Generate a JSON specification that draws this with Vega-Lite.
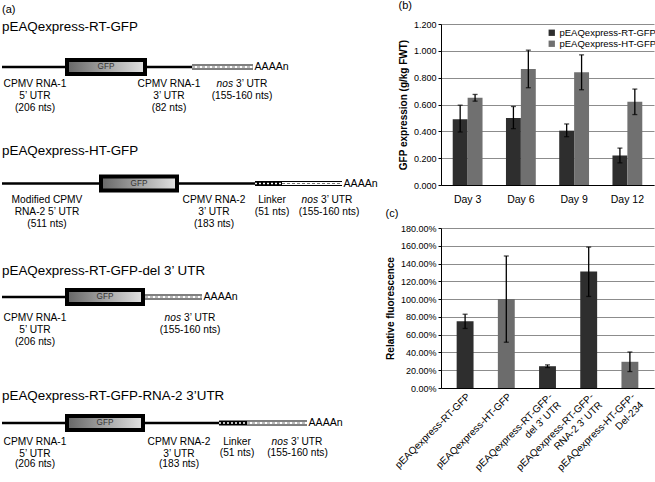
{
  "$schema": "https://vega.github.io/schema/vega-lite/v6.json",
  "padding": 0,
  "spacing": 7,
  "columns": 2,
  "align": "none",
  "config": {
    "view": {"stroke": null},
    "font": "Liberation Sans",
    "axis": {"labelColor": "black", "titleColor": "black", "domainColor": "black", "tickColor": "black", "gridColor": "#8c8c8c", "labelFont": "Liberation Sans", "titleFont": "Liberation Sans", "labelOverlap": false},
    "title": {"font": "Liberation Sans", "fontWeight": "normal", "color": "black"},
    "legend": {"labelFont": "Liberation Sans", "labelColor": "black"}
  },
  "datasets": {
    "segments": [
      {"construct": "RT-GFP", "part": "backbone", "x": 0, "x2": 190, "y": 65},
      {"construct": "RT-GFP", "part": "nos", "x": 190, "x2": 251, "y": 65},
      {"construct": "HT-GFP", "part": "backbone", "x": 0, "x2": 253, "y": 181.5},
      {"construct": "HT-GFP", "part": "linker", "x": 253, "x2": 280, "y": 181.5},
      {"construct": "HT-GFP", "part": "nos", "x": 280, "x2": 340, "y": 181.5},
      {"construct": "RT-GFP-del", "part": "backbone", "x": 0, "x2": 143, "y": 295},
      {"construct": "RT-GFP-del", "part": "nos", "x": 143, "x2": 200, "y": 295},
      {"construct": "RT-GFP-RNA2", "part": "backbone", "x": 0, "x2": 217, "y": 421},
      {"construct": "RT-GFP-RNA2", "part": "linker", "x": 217, "x2": 245, "y": 421},
      {"construct": "RT-GFP-RNA2", "part": "nos", "x": 245, "x2": 305, "y": 421}
    ],
    "boxes": [
      {"construct": "RT-GFP", "x": 65, "x2": 143, "y": 58, "y2": 72},
      {"construct": "HT-GFP", "x": 99, "x2": 175, "y": 174.5, "y2": 188.5},
      {"construct": "RT-GFP-del", "x": 65, "x2": 141, "y": 288, "y2": 302},
      {"construct": "RT-GFP-RNA2", "x": 65, "x2": 141, "y": 414, "y2": 428}
    ],
    "texts": [
      {"role": "panel", "x": 0, "y": 8, "text": "(a)"},
      {"role": "title", "x": 0, "y": 25, "text": "pEAQexpress-RT-GFP"},
      {"role": "title", "x": 0, "y": 148.5, "text": "pEAQexpress-HT-GFP"},
      {"role": "title", "x": 0, "y": 268.5, "text": "pEAQexpress-RT-GFP-del 3’ UTR"},
      {"role": "title", "x": 0, "y": 393.5, "text": "pEAQexpress-RT-GFP-RNA-2 3’UTR"},
      {"role": "gfp", "x": 104, "y": 65, "text": "GFP"},
      {"role": "gfp", "x": 137, "y": 181.5, "text": "GFP"},
      {"role": "gfp", "x": 103, "y": 295, "text": "GFP"},
      {"role": "gfp", "x": 103, "y": 421, "text": "GFP"},
      {"role": "polya", "x": 252.5, "y": 65, "text": "AAAAn"},
      {"role": "polya", "x": 341.5, "y": 181.5, "text": "AAAAn"},
      {"role": "polya", "x": 201.5, "y": 295, "text": "AAAAn"},
      {"role": "polya", "x": 306.5, "y": 421, "text": "AAAAn"},
      {"role": "label", "x": 33, "y": 82, "text": "CPMV RNA-1"},
      {"role": "label", "x": 33, "y": 94, "text": "5’ UTR"},
      {"role": "label", "x": 33, "y": 106, "text": "(206 nts)"},
      {"role": "label", "x": 167, "y": 82, "text": "CPMV RNA-1"},
      {"role": "label", "x": 167, "y": 94, "text": "3’ UTR"},
      {"role": "label", "x": 167, "y": 106, "text": "(82 nts)"},
      {"role": "nos", "x": 231, "y": 82, "text": "3’ UTR"},
      {"role": "label", "x": 240, "y": 94, "text": "(155-160 nts)"},
      {"role": "label", "x": 45, "y": 198, "text": "Modified CPMV"},
      {"role": "label", "x": 45, "y": 210, "text": "RNA-2 5’ UTR"},
      {"role": "label", "x": 45, "y": 222, "text": "(511 nts)"},
      {"role": "label", "x": 212, "y": 198, "text": "CPMV RNA-2"},
      {"role": "label", "x": 212, "y": 210, "text": "3’ UTR"},
      {"role": "label", "x": 212, "y": 222, "text": "(183 nts)"},
      {"role": "label", "x": 270, "y": 198, "text": "Linker"},
      {"role": "label", "x": 270, "y": 209.5, "text": "(51 nts)"},
      {"role": "nos", "x": 316, "y": 198, "text": "3’ UTR"},
      {"role": "label", "x": 327, "y": 209.5, "text": "(155-160 nts)"},
      {"role": "label", "x": 33, "y": 316, "text": "CPMV RNA-1"},
      {"role": "label", "x": 33, "y": 327.5, "text": "5’ UTR"},
      {"role": "label", "x": 33, "y": 339.5, "text": "(206 nts)"},
      {"role": "nos", "x": 179, "y": 316, "text": "3’ UTR"},
      {"role": "label", "x": 188, "y": 328, "text": "(155-160 nts)"},
      {"role": "label", "x": 33, "y": 440, "text": "CPMV RNA-1"},
      {"role": "label", "x": 33, "y": 451.5, "text": "5’ UTR"},
      {"role": "label", "x": 33, "y": 462, "text": "(206 nts)"},
      {"role": "label", "x": 177, "y": 440, "text": "CPMV RNA-2"},
      {"role": "label", "x": 177, "y": 451.5, "text": "3’ UTR"},
      {"role": "label", "x": 177, "y": 462, "text": "(183 nts)"},
      {"role": "label", "x": 235, "y": 440, "text": "Linker"},
      {"role": "label", "x": 235, "y": 451, "text": "(51 nts)"},
      {"role": "nos", "x": 286, "y": 440, "text": "3’ UTR"},
      {"role": "label", "x": 295.5, "y": 451, "text": "(155-160 nts)"}
    ],
    "expr": [
      {"day": "Day 3", "construct": "pEAQexpress-RT-GFP", "mean": 0.49, "lo": 0.395, "hi": 0.595},
      {"day": "Day 6", "construct": "pEAQexpress-RT-GFP", "mean": 0.5, "lo": 0.42, "hi": 0.585},
      {"day": "Day 9", "construct": "pEAQexpress-RT-GFP", "mean": 0.405, "lo": 0.36, "hi": 0.455},
      {"day": "Day 12", "construct": "pEAQexpress-RT-GFP", "mean": 0.22, "lo": 0.165, "hi": 0.275},
      {"day": "Day 3", "construct": "pEAQexpress-HT-GFP", "mean": 0.65, "lo": 0.625, "hi": 0.675},
      {"day": "Day 6", "construct": "pEAQexpress-HT-GFP", "mean": 0.865, "lo": 0.725, "hi": 1.005},
      {"day": "Day 9", "construct": "pEAQexpress-HT-GFP", "mean": 0.84, "lo": 0.71, "hi": 0.97},
      {"day": "Day 12", "construct": "pEAQexpress-HT-GFP", "mean": 0.62, "lo": 0.525, "hi": 0.715}
    ],
    "fluor": [
      {"construct": "pEAQexpress-RT-GFP", "family": "RT", "mean": 0.75, "lo": 0.67, "hi": 0.83},
      {"construct": "pEAQexpress-HT-GFP", "family": "HT", "mean": 1.0, "lo": 0.515, "hi": 1.485},
      {"construct": "pEAQexpress-RT-GFP-\ndel 3’ UTR", "family": "RT", "mean": 0.245, "lo": 0.23, "hi": 0.26},
      {"construct": "pEAQexpress-RT-GFP-\nRNA-2 3’ UTR", "family": "RT", "mean": 1.31, "lo": 1.03, "hi": 1.585},
      {"construct": "pEAQexpress-HT-GFP-\nDel-234", "family": "HT", "mean": 0.295, "lo": 0.185, "hi": 0.405}
    ]
  },
  "concat": [
    {
      "width": 375,
      "height": 482,
      "encoding": {
        "x": {"field": "x", "type": "quantitative", "scale": {"domain": [0, 375], "nice": false, "zero": false}, "axis": null},
        "y": {"field": "y", "type": "quantitative", "scale": {"domain": [22, 504], "nice": false, "zero": false, "reverse": true}, "axis": null}
      },
      "layer": [
        {"data": {"name": "segments"}, "transform": [{"filter": "datum.part === 'backbone'"}],
         "mark": {"type": "rule", "strokeWidth": 2.5, "color": "black"},
         "encoding": {"x2": {"field": "x2"}}},
        {"data": {"name": "segments"}, "transform": [{"filter": "datum.part === 'linker'"}],
         "mark": {"type": "rule", "strokeWidth": 5, "color": "black"},
         "encoding": {"x2": {"field": "x2"}}},
        {"data": {"name": "segments"}, "transform": [{"filter": "datum.part === 'linker'"}],
         "mark": {"type": "rule", "strokeWidth": 1.5, "color": "white", "strokeDash": [2, 2]},
         "encoding": {"x2": {"field": "x2"}}},
        {"data": {"name": "segments"}, "transform": [{"filter": "datum.part === 'nos'"}],
         "mark": {"type": "rule", "strokeWidth": 5, "color": "black"},
         "encoding": {"x2": {"field": "x2"}}},
        {"data": {"name": "segments"}, "transform": [{"filter": "datum.part === 'nos'"}],
         "mark": {"type": "rule", "strokeWidth": 3, "color": "white"},
         "encoding": {"x2": {"field": "x2"}}},
        {"data": {"name": "segments"}, "transform": [{"filter": "datum.part === 'nos'"}],
         "mark": {"type": "rule", "strokeWidth": 1, "color": "#777777", "strokeDash": [3, 2]},
         "encoding": {"x2": {"field": "x2"}}},
        {"data": {"name": "boxes"},
         "mark": {"type": "rect", "stroke": "black", "strokeWidth": 4,
                  "fill": {"gradient": "linear", "x1": 0, "y1": 0, "x2": 1, "y2": 0, "stops": [{"offset": 0, "color": "#666666"}, {"offset": 1, "color": "#e2e2e2"}]}},
         "encoding": {"x2": {"field": "x2"}, "y2": {"field": "y2"}}},
        {"data": {"name": "texts"}, "transform": [{"filter": "datum.role === 'gfp'"}],
         "mark": {"type": "text", "fontSize": 8.2, "color": "#333333", "align": "center", "baseline": "middle"},
         "encoding": {"text": {"field": "text"}}},
        {"data": {"name": "texts"}, "transform": [{"filter": "datum.role === 'polya'"}],
         "mark": {"type": "text", "fontSize": 10.6, "color": "black", "align": "left", "baseline": "middle"},
         "encoding": {"text": {"field": "text"}}},
        {"data": {"name": "texts"}, "transform": [{"filter": "datum.role === 'title'"}],
         "mark": {"type": "text", "fontSize": 13.4, "color": "black", "align": "left", "baseline": "middle"},
         "encoding": {"text": {"field": "text"}}},
        {"data": {"name": "texts"}, "transform": [{"filter": "datum.role === 'panel'"}],
         "mark": {"type": "text", "fontSize": 11, "color": "black", "align": "left", "baseline": "middle"},
         "encoding": {"text": {"field": "text"}}},
        {"data": {"name": "texts"}, "transform": [{"filter": "datum.role === 'label'"}],
         "mark": {"type": "text", "fontSize": 10.2, "color": "black", "align": "center", "baseline": "middle"},
         "encoding": {"text": {"field": "text"}}},
        {"data": {"name": "texts"}, "transform": [{"filter": "datum.role === 'nos'"}],
         "mark": {"type": "text", "fontSize": 10.2, "color": "black", "align": "left", "baseline": "middle", "dx": 3},
         "encoding": {"text": {"field": "text"}}},
        {"data": {"name": "texts"}, "transform": [{"filter": "datum.role === 'nos'"}],
         "mark": {"type": "text", "fontSize": 10.2, "color": "black", "align": "right", "baseline": "middle", "fontStyle": "italic", "text": "nos"},
         "encoding": {}}
      ]
    },
    {
      "spacing": 3,
      "resolve": {"scale": {"color": "independent"}},
      "vconcat": [
        {
          "title": {"text": "(b)", "anchor": "start", "frame": "bounds", "fontSize": 11, "offset": 9},
          "width": 213,
          "height": 161,
          "data": {"name": "expr"},
          "encoding": {
            "x": {"field": "day", "type": "nominal", "sort": ["Day 3", "Day 6", "Day 9", "Day 12"],
                  "scale": {"paddingInner": 0.44, "paddingOuter": 0.22},
                  "axis": {"title": null, "labelAngle": 0, "labelFontSize": 10.5, "ticks": false, "labelPadding": 9, "domainWidth": 1.2, "labelColor": "black"}},
            "xOffset": {"field": "construct", "type": "nominal", "sort": ["pEAQexpress-RT-GFP", "pEAQexpress-HT-GFP"]}
          },
          "layer": [
            {"mark": {"type": "bar"},
             "encoding": {
               "y": {"field": "mean", "type": "quantitative", "scale": {"domain": [0, 1.2], "nice": false},
                     "axis": {"title": "GFP expression (g/kg FWT)", "titleFontSize": 10, "titleFontWeight": "bold", "format": ".3f",
                              "values": [0, 0.2, 0.4, 0.6, 0.8, 1, 1.2], "tickCount": 20, "labelFontSize": 9, "tickSize": 3, "labelPadding": 2, "titlePadding": 5, "grid": true, "labelOverlap": false, "labelColor": "black"}},
               "color": {"field": "construct", "type": "nominal", "sort": ["pEAQexpress-RT-GFP", "pEAQexpress-HT-GFP"],
                         "scale": {"range": ["#2e2e2e", "#707070"]},
                         "legend": {"title": null, "orient": "none", "legendX": 106, "legendY": 4, "symbolType": "square", "symbolSize": 40, "labelFontSize": 9.5, "rowPadding": 0, "padding": 0, "labelLimit": 300, "labelOffset": 3, "symbolStrokeWidth": 0}}
             }},
            {"mark": {"type": "rule", "strokeWidth": 1.3, "color": "black"},
             "encoding": {"y": {"field": "lo", "type": "quantitative"}, "y2": {"field": "hi"}}},
            {"mark": {"type": "tick", "thickness": 1.3, "size": 5, "color": "black"},
             "encoding": {"y": {"field": "lo", "type": "quantitative"}}},
            {"mark": {"type": "tick", "thickness": 1.3, "size": 5, "color": "black"},
             "encoding": {"y": {"field": "hi", "type": "quantitative"}}}
          ]
        },
        {
          "title": {"text": "(c)", "anchor": "start", "frame": "bounds", "fontSize": 11, "offset": 5},
          "width": 213,
          "height": 160,
          "data": {"name": "fluor"},
          "encoding": {
            "x": {"field": "construct", "type": "nominal", "sort": null,
                  "scale": {"paddingInner": 0.59, "paddingOuter": 0.38},
                  "axis": {"title": null, "labelAngle": -45, "labelAlign": "right", "labelBaseline": "top", "labelExpr": "split(datum.label, '\\n')",
                           "labelFontSize": 10, "labelLimit": 300, "ticks": false, "labelPadding": 3, "domainWidth": 1.2, "labelColor": "black"}}
          },
          "layer": [
            {"mark": {"type": "bar"},
             "encoding": {
               "y": {"field": "mean", "type": "quantitative", "scale": {"domain": [0, 1.8], "nice": false},
                     "axis": {"title": "Relative fluorescence", "titleFontSize": 10, "titleFontWeight": "bold", "format": ".2%",
                              "values": [0, 0.2, 0.4, 0.6, 0.8, 1, 1.2, 1.4, 1.6, 1.8], "tickCount": 20, "labelFontSize": 9, "tickSize": 3, "labelPadding": 2, "titlePadding": 5, "grid": true, "labelOverlap": false, "labelColor": "black"}},
               "color": {"field": "family", "type": "nominal", "scale": {"domain": ["RT", "HT"], "range": ["#2e2e2e", "#6c6c6c"]}, "legend": null}
             }},
            {"mark": {"type": "rule", "strokeWidth": 1.3, "color": "black"},
             "encoding": {"y": {"field": "lo", "type": "quantitative"}, "y2": {"field": "hi"}}},
            {"mark": {"type": "tick", "thickness": 1.3, "size": 5, "color": "black"},
             "encoding": {"y": {"field": "lo", "type": "quantitative"}}},
            {"mark": {"type": "tick", "thickness": 1.3, "size": 5, "color": "black"},
             "encoding": {"y": {"field": "hi", "type": "quantitative"}}}
          ]
        }
      ]
    }
  ]
}
